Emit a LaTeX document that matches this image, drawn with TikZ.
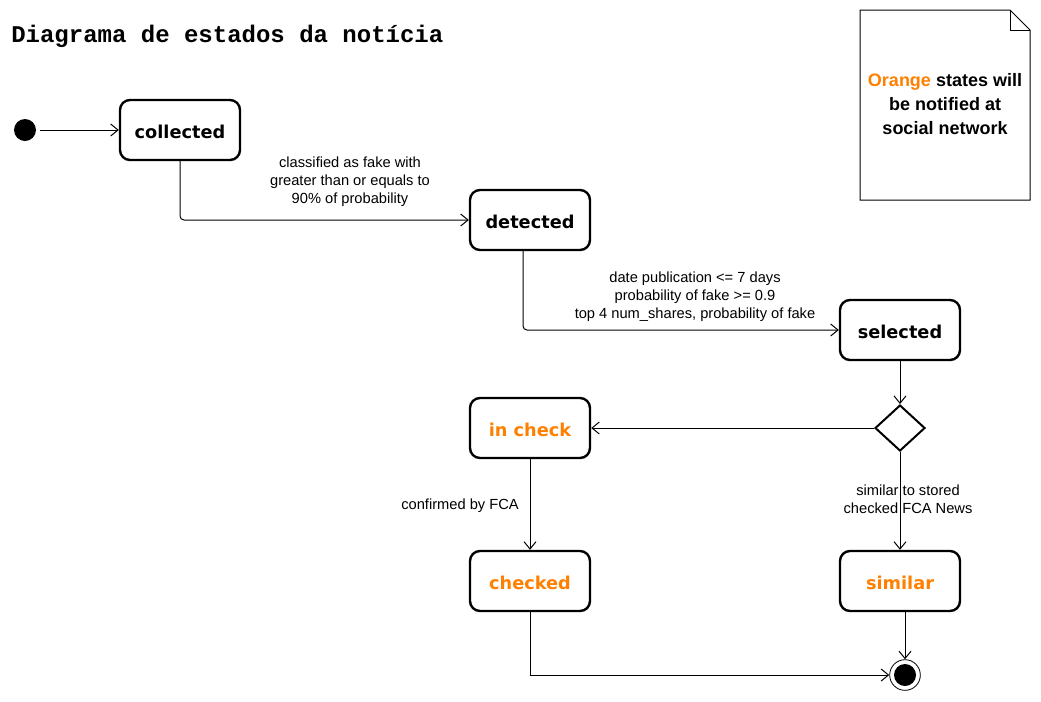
\documentclass[tikz,border=0pt]{standalone}
\usepackage{fontspec}
\setmainfont{Liberation Sans}
\newfontfamily\statefont{DejaVu Sans}
\newfontfamily\titlefont{Liberation Mono}
\usetikzlibrary{arrows.meta,shapes.geometric}
\definecolor{orng}{HTML}{FF8000}
\newcommand{\lowered}[1]{\raisebox{-1.6pt}[\height][\depth]{#1}}
\tikzset{
  px/.style={x=0.75pt,y=-0.75pt},
  state/.style={draw,line width=1.8pt,rounded corners=7.5pt,minimum width=90pt,minimum height=45pt,inner sep=0pt,
    font=\statefont\bfseries\fontsize{13.3pt}{15pt}\selectfont},
  hot/.style={text=orng},
  trans/.style={line width=0.75pt,-{Straight Barb[length=5.5pt,width=9pt]},rounded corners=3pt},
  lbl/.style={align=center,inner sep=0pt,font=\fontsize{11pt}{13.5pt}\selectfont},
}
\begin{document}
\begin{tikzpicture}[px]
\useasboundingbox (0,0) rectangle (1041,701);
\node[anchor=west,inner sep=0pt,font=\titlefont\bfseries\fontsize{18pt}{20pt}\selectfont] (title) at (11,36.5) {Diagrama de estados da notícia};
% note
\draw[line width=0.75pt] (860,10) -- (1010,10) -- (1030,30) -- (1030,200) -- (860,200) -- cycle;
\draw[line width=0.5pt] (1010,10) -- (1010,30) -- (1030,30);
\node[align=center,inner sep=0pt,font=\bfseries\fontsize{13.5pt}{18pt}\selectfont] (note) at (945,104.5) {\textcolor{orng}{Orange} states will\\be notified at\\social network};
% states
\node[circle,fill=black,minimum size=16.5pt,inner sep=0pt] (init) at (25,130) {};
\node[state] (collected) at (180,130) {\lowered{collected}};
\node[state] (detected) at (530,220) {\lowered{detected}};
\node[state] (selected) at (900,330) {\lowered{selected}};
\node[state,hot] (incheck) at (530,428) {\lowered{in check}};
\node[state,hot] (checked) at (530,581) {\lowered{checked}};
\node[state,hot] (similar) at (900,581) {\lowered{similar}};
\node[diamond,draw,line width=1.5pt,minimum width=37.5pt,minimum height=34.5pt,inner sep=0pt] (dec) at (900,428) {};
\node[circle,draw,line width=0.6pt,minimum size=23pt,inner sep=0pt] (final) at (905,675) {};
\node[circle,fill=black,minimum size=16.5pt,inner sep=0pt] (finaldot) at (final) {};
% transitions
\draw[trans,shorten <=3pt] (init) -- (collected);
\draw[trans] (collected.south) -- (180,220) -- (detected.west);
\node[lbl] (l1) at (350,182) {classified as fake with\\greater than or equals to\\90\% of probability};
\draw[trans] (detected.south -| 523,0) -- (523,330) -- (selected.west);
\node[lbl] (l2) at (695,296.5) {date publication <= 7 days\\probability of fake >= 0.9\\top 4 num\_shares, probability of fake};
\draw[trans] (selected.south) -- (dec.north);
\draw[trans] (dec.west) -- (incheck.east);
\draw[trans] (dec.south) -- (similar.north);
\node[lbl] (l3) at (908,499) {similar to stored\\checked FCA News};
\draw[trans] (incheck.south) -- (checked.north);
\node[lbl] (l4) at (460,506) {confirmed by FCA};
\draw[trans,rounded corners=0pt] (checked.south) -- (530,675) -- (final.west);
\draw[trans] (similar.south -| final.north) -- (final.north);
\end{tikzpicture}
\end{document}
